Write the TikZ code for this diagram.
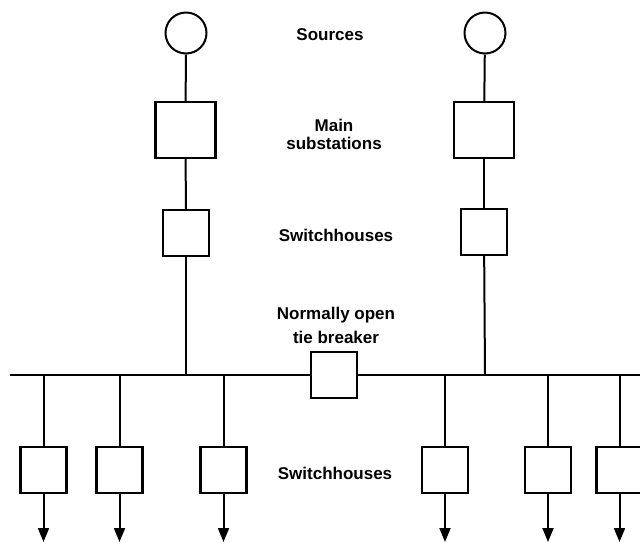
\documentclass[tikz,border=0pt]{standalone}
\usepackage{fontspec}
\setmainfont{Liberation Sans}
\usetikzlibrary{arrows.meta}
\begin{document}
\begin{tikzpicture}[x=1pt,y=-1pt,
  unit/.style={draw,line width=2.4pt,fill=white,inner sep=0pt},
  src/.style={unit,circle,minimum size=41pt,line width=2pt},
  mainbox/.style={unit,rectangle,minimum width=60pt,minimum height=56pt},
  shbox/.style={unit,rectangle,minimum width=46pt,minimum height=46pt},
  wire/.style={line width=2pt},
  feed/.style={line width=2pt,-{Triangle[width=11pt,length=14pt]}},
  lbl/.style={font=\bfseries\fontsize{17}{18}\selectfont,align=center,inner sep=0pt}]
\useasboundingbox (0,0) rectangle (640,542);
% bus coordinates
\coordinate (busL) at (10,375);
\coordinate (busR) at (650,375);
\coordinate (j1) at (186,375);
\coordinate (j2) at (485,375);
\foreach \i/\x in {1/43.5,2/119.5,3/223.5,4/445,5/548,6/619.5}{
  \coordinate (b\i) at (\x,375);
  \coordinate (e\i) at (\x,542);
}
\draw[wire,line width=2.2pt] (busL) -- (busR);
% left column
\node[src] (s1) at (186,33) {};
\node[mainbox] (m1) at (185.5,130) {};
\node[shbox] (h1) at (186,233) {};
% right column
\node[src] (s2) at (485,33) {};
\node[mainbox] (m2) at (484,130) {};
\node[shbox] (h2) at (484,232) {};
\draw[wire] (s1) -- (m1);
\draw[wire] (m1) -- (h1);
\draw[wire] (h1) -- (j1);
\draw[wire] (s2) -- (m2);
\draw[wire] (m2) -- (h2);
\draw[wire] (h2) -- (j2);
% tie breaker
\node[shbox] (tie) at (334,375) {};
% lower switchhouses
\foreach \i in {1,...,6}{
  \node[shbox,minimum height=46pt] (f\i) at (b\i |- 0,470) {};
  \draw[wire] (b\i) -- (f\i);
  \draw[feed] (f\i) -- (e\i);
}
% labels
\node[lbl] (tsrc) at (330,35) {Sources};
\node[lbl] (tmain) at (334,134) {Main\\substations};
\node[lbl] (tsh) at (336,235) {Switchhouses};
\node[lbl,font=\bfseries\fontsize{17}{24}\selectfont] (ttie) at (336,325) {Normally open\\tie breaker};
\node[lbl] (tsh2) at (335,473) {Switchhouses};
\end{tikzpicture}
\end{document}
